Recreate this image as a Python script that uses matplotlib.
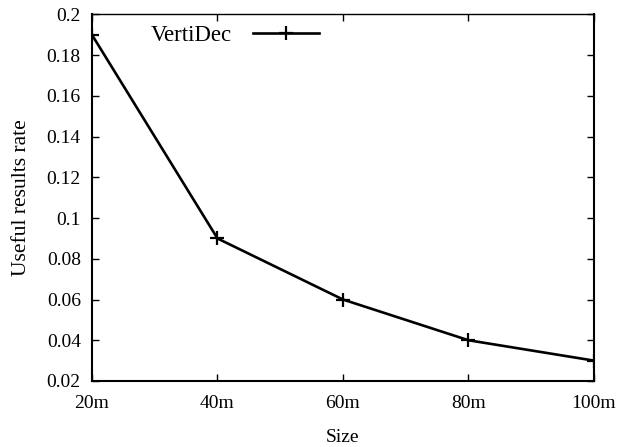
import matplotlib
matplotlib.use("Agg")
import matplotlib.pyplot as plt

categories = ["20m", "40m", "60m", "80m", "100m"]
values = [0.19, 0.09, 0.06, 0.04, 0.03]
yticks = [0.02, 0.04, 0.06, 0.08, 0.1, 0.12, 0.14, 0.16, 0.18, 0.2]
ytick_labels = ["0.02", "0.04", "0.06", "0.08", "0.1", "0.12", "0.14", "0.16", "0.18", "0.2"]

plt.rcParams['font.family'] = ['Liberation Serif', 'DejaVu Serif']
plt.rcParams['font.size'] = 14

fig = plt.figure(figsize=(6.19, 4.47), dpi=100)
ax = fig.add_axes([0.1486, 0.1477, 0.9596 - 0.1486, 0.9676 - 0.1477])

x = list(range(len(categories)))
ax.plot(x, values, color='black', linewidth=1.9, marker='+', markersize=10,
        markeredgewidth=1.6, label='VertiDec')

ax.set_xlim(0, len(categories) - 1)
ax.set_ylim(0.02, 0.2)
ax.set_xticks(x)
ax.set_xticklabels(categories, fontsize=14)
ax.set_yticks(yticks)
ax.set_yticklabels(ytick_labels, fontsize=14)
ax.tick_params(axis='x', direction='in', top=True, length=5, width=1, pad=10)
ax.tick_params(axis='y', direction='in', right=True, length=5, width=1, pad=8)
for name, s in ax.spines.items():
    s.set_linewidth(1.0 if name == 'top' else 1.5)

ax.set_xlabel("Size", fontsize=14, labelpad=12)
ax.set_ylabel("Useful results rate", fontsize=15.5, labelpad=11)

leg = ax.legend(loc='upper left', bbox_to_anchor=(0.09, 1.01), frameon=False,
                markerfirst=False, handlelength=2.9, handletextpad=0.9,
                borderaxespad=0.2, prop={'size': 16.5})

fig.savefig("out.png", dpi=100)
